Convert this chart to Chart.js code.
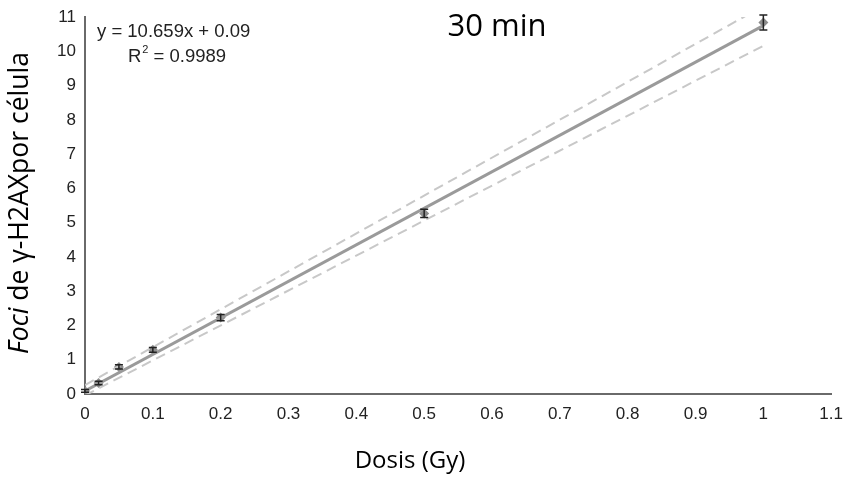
<!DOCTYPE html>
<html><head><meta charset="utf-8">
<script src="https://cdn.jsdelivr.net/npm/chart.js@4/dist/chart.umd.min.js"></script>
<style>html,body{margin:0;padding:0;background:#fff;}#wrap{width:848px;height:479px;position:relative;}</style>
</head><body><div id="wrap"><canvas id="c" width="848" height="479"></canvas></div>
<script>
const doses = [0, 0.02, 0.05, 0.1, 0.2, 0.5, 1];
const foci = [0.09, 0.32, 0.79, 1.29, 2.23, 5.27, 10.84];
const fociErr = [0.04, 0.05, 0.06, 0.07, 0.09, 0.12, 0.22];
const fitX = [0, 1];
const fitY = [0.09, 10.749];
const upperY = [0.26, 11.32];
const lowerY = [-0.04, 10.16];
const xTicks = [0, 0.1, 0.2, 0.3, 0.4, 0.5, 0.6, 0.7, 0.8, 0.9, 1, 1.1];
const yTicks = [0, 1, 2, 3, 4, 5, 6, 7, 8, 9, 10, 11];
const titleText = '30 min';
const xTitle = 'Dosis (Gy)';
const yTitleItalic = 'Foci';
const yTitleRest = ' de γ-H2AXpor célula';
const eqLine1 = 'y = 10.659x + 0.09';
const eqLine2a = 'R';
const eqLine2b = '2';
const eqLine2c = ' = 0.9989';

const pts = (xs, ys) => xs.map((x, i) => ({x: x, y: ys[i]}));

const errPlugin = {
  id: 'err',
  afterDatasetsDraw(chart) {
    const ctx = chart.ctx, xs = chart.scales.x, ys = chart.scales.y;
    ctx.save();
    ctx.strokeStyle = '#222';
    ctx.lineWidth = 1.5;
    doses.forEach((d, i) => {
      const px = xs.getPixelForValue(d);
      const top = ys.getPixelForValue(foci[i] + fociErr[i]);
      const bot = ys.getPixelForValue(foci[i] - fociErr[i]);
      ctx.beginPath();
      ctx.moveTo(px, top); ctx.lineTo(px, bot);
      ctx.moveTo(px - 4, top); ctx.lineTo(px + 4, top);
      ctx.moveTo(px - 4, bot); ctx.lineTo(px + 4, bot);
      ctx.stroke();
    });
    ctx.restore();
  },
  afterDraw(chart) {
    const ctx = chart.ctx;
    ctx.save();
    ctx.fillStyle = '#000';
    ctx.textBaseline = 'middle';
    ctx.textAlign = 'center';
    ctx.font = '31px "Open Sans", sans-serif';
    ctx.fillText(titleText, 497, 27);
    ctx.font = '24px "Open Sans", sans-serif';
    ctx.fillText(xTitle, 410, 461);
    // y title
    ctx.translate(20, 203);
    ctx.rotate(-Math.PI / 2);
    const fs = 26.5;
    ctx.font = 'italic ' + fs + 'px "Open Sans", sans-serif';
    const w1 = ctx.measureText(yTitleItalic).width;
    ctx.font = fs + 'px "Open Sans", sans-serif';
    const w2 = ctx.measureText(yTitleRest).width;
    const start = -(w1 + w2) / 2;
    ctx.textAlign = 'left';
    ctx.font = 'italic ' + fs + 'px "Open Sans", sans-serif';
    ctx.fillText(yTitleItalic, start, 0);
    ctx.font = fs + 'px "Open Sans", sans-serif';
    ctx.fillText(yTitleRest, start + w1, 0);
    ctx.restore();
    // equation
    ctx.save();
    ctx.fillStyle = '#222';
    ctx.textBaseline = 'middle';
    ctx.textAlign = 'left';
    ctx.font = '18.5px "Liberation Sans", Arial, sans-serif';
    ctx.fillText(eqLine1, 97, 32);
    ctx.fillText(eqLine2a, 128, 57);
    const rw = ctx.measureText(eqLine2a).width;
    ctx.font = '11px "Liberation Sans", Arial, sans-serif';
    ctx.fillText(eqLine2b, 128 + rw + 1, 50);
    const sw = ctx.measureText(eqLine2b).width;
    ctx.font = '18.5px "Liberation Sans", Arial, sans-serif';
    ctx.fillText(eqLine2c, 128 + rw + sw + 1, 57);
    ctx.restore();
  }
};

new Chart(document.getElementById('c'), {
  type: 'scatter',
  data: {
    datasets: [
      {data: pts(fitX, upperY), showLine: true, borderColor: '#c8c8c8', borderWidth: 2, borderDash: [10, 6], pointRadius: 0},
      {data: pts(fitX, lowerY), showLine: true, borderColor: '#c8c8c8', borderWidth: 2, borderDash: [10, 6], pointRadius: 0},
      {data: pts(fitX, fitY), showLine: true, borderColor: '#9a9a9a', borderWidth: 3, pointRadius: 0},
      {data: pts(doses, foci), showLine: false, pointStyle: 'rectRot', pointRadius: 5, backgroundColor: '#8c8c8c', borderColor: '#8c8c8c', borderWidth: 0}
    ]
  },
  options: {
    responsive: false,
    animation: false,
    events: [],
    plugins: {legend: {display: false}, tooltip: {enabled: false}},
    layout: {padding: {top: 17, right: 11, left: 0, bottom: 0}, autoPadding: false},
    scales: {
      x: {
        type: 'linear', min: 0, max: 1.1,
        afterBuildTicks(s) { s.ticks = xTicks.map(v => ({value: v})); },
        afterFit(s) { s.height = 85; },
        grid: {display: false, drawOnChartArea: false, drawTicks: true, tickLength: 5, tickColor: '#555', color: '#555'},
        border: {color: '#6a6a6a', width: 2},
        ticks: {color: '#222', font: {family: '"Liberation Sans", Arial, sans-serif', size: 17}, padding: 5, maxRotation: 0,
          callback: v => String(v)}
      },
      y: {
        type: 'linear', min: 0, max: 11,
        afterBuildTicks(s) { s.ticks = yTicks.map(v => ({value: v})); },
        afterFit(s) { s.width = 85; },
        grid: {display: false, drawOnChartArea: false, drawTicks: true, tickLength: 5, tickColor: '#555'},
        border: {color: '#6a6a6a', width: 2},
        ticks: {color: '#222', font: {family: '"Liberation Sans", Arial, sans-serif', size: 17}, padding: 4,
          callback: v => String(v)}
      }
    }
  },
  plugins: [errPlugin]
});
</script></body></html>
